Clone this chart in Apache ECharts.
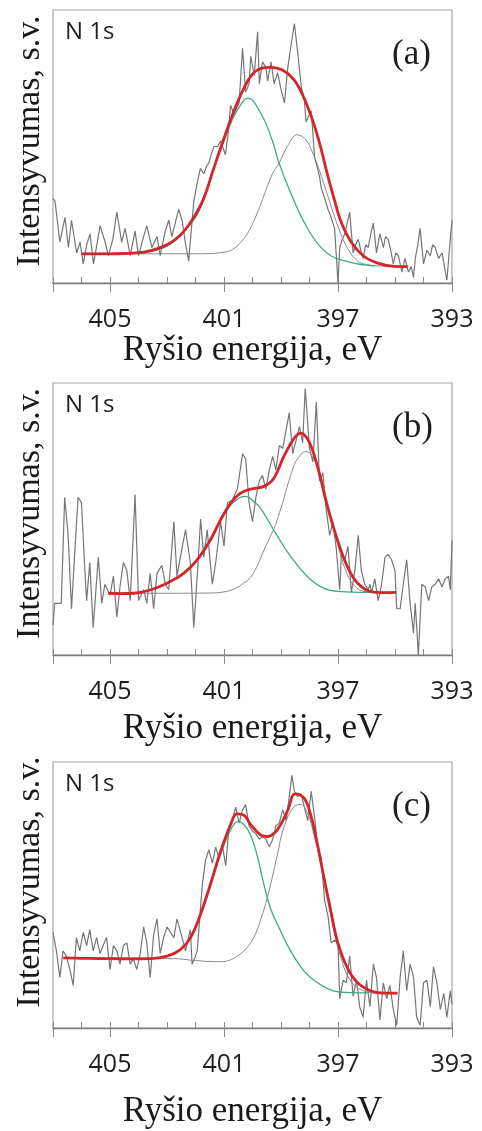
<!DOCTYPE html>
<html>
<head>
<meta charset="utf-8">
<script src="https://cdn.jsdelivr.net/npm/echarts@6/dist/echarts.min.js"></script>
<style>
  html, body { margin: 0; padding: 0; background: #fff; }
  #chart { width: 482px; height: 1131px; }
</style>
</head>
<body>
<div id="chart"></div>
<script>
// energies in eV, intensity in arbitrary units (0 = axis, 100 = top of frame)
const xTickLabels = [405, 401, 397, 393];
const panelTags = ['(a)', '(b)', '(c)'];

// (a) measured spectrum + fit
const rawA = [[407.0,31],[406.93,30],[406.76,15],[406.58,24],[406.46,13],[406.35,23],[406.17,11],[406.05,15],[405.94,7],[405.82,14],[405.70,18],[405.58,7],[405.46,14],[405.35,21],[405.17,15],[405.06,10],[404.9,16],[404.76,26],[404.59,15],[404.47,20],[404.29,10],[404.12,19],[404.0,10],[403.82,17],[403.71,21],[403.53,13],[403.35,17],[403.24,10],[403.06,19],[402.94,23],[402.83,17],[402.59,27],[402.47,23],[402.36,15],[402.24,8],[402.06,30],[401.95,36],[401.83,42],[401.71,40],[401.6,43],[401.53,44],[401.45,47],[401.35,50],[401.22,50],[401.12,52],[400.95,47],[400.85,55],[400.77,65],[400.65,62],[400.56,64],[400.47,66],[400.35,86],[400.24,70],[400.12,73],[400.06,83],[399.94,76],[399.82,92],[399.76,73],[399.65,81],[399.53,79],[399.47,74],[399.35,81],[399.24,73],[399.12,77],[399.0,71],[398.88,66],[398.76,79],[398.65,87],[398.53,95],[398.41,84],[398.29,72],[398.18,67],[398.12,59],[398.04,61],[397.94,63],[397.82,46],[397.72,42],[397.65,39],[397.59,35],[397.47,31],[397.35,27],[397.24,24],[397.12,20],[397.0,0],[396.94,13],[396.85,16],[396.76,18],[396.59,26],[396.47,11],[396.38,14],[396.29,16],[396.2,12],[396.12,9],[396.03,14],[395.94,13],[395.85,18],[395.76,22],[395.65,11],[395.53,18],[395.41,13],[395.33,17],[395.24,16],[395.15,12],[395.06,7],[394.97,11],[394.88,10],[394.76,4],[394.65,9],[394.53,4],[394.43,6],[394.35,2],[394.29,9],[394.2,14],[394.12,20],[394.0,7],[393.88,12],[393.76,10],[393.68,14],[393.59,13],[393.47,9],[393.35,11],[393.18,1],[393.06,16],[393.0,23]];
const compA1 = [[406,10.8],[405,10.8],[404,11],[403.5,11.8],[403,13.5],[402.5,18],[402,24],[401.7,31],[401.4,41],[401,52],[400.7,60],[400.4,65.5],[400.18,67.7],[400,67],[399.6,60],[399.3,52],[399.07,44],[398.66,33],[398.2,22.5],[397.72,14.5],[397.25,10],[396.67,7.8],[396.08,6.6],[395.7,6.2]];
const compA2 = [[406,10.7],[404,10.7],[402,10.7],[401.5,10.8],[401,11.3],[400.7,12.3],[400.4,15],[400.1,19.5],[399.8,26.5],[399.6,32],[399.3,40],[399.07,43.8],[398.78,50],[398.43,54.3],[398.13,52.5],[397.9,48],[397.72,43.3],[397.37,32.3],[397.02,21.3],[396.67,12.8],[396.31,8],[396,6.8],[395.5,6.2],[394.55,6]];
const fitA = [[406,10.7],[405.5,10.7],[405,10.7],[404.5,10.8],[404,11.1],[403.6,11.8],[403.3,12.7],[403,14],[402.7,16],[402.4,19],[402.06,24],[401.71,31],[401.36,42],[401,53],[400.65,63],[400.3,71.4],[400,76.5],[399.7,78.6],[399.37,79],[398.95,78],[398.54,74.4],[398.19,67.7],[397.84,58],[397.6,49.4],[397.37,39.7],[397.14,31],[396.9,22.6],[396.55,15.2],[396.08,9.7],[395.61,7.3],[395.02,6.1],[394.55,6]];

// (b)
const rawB = [[407.0,11],[406.94,19],[406.82,19],[406.71,19],[406.59,58],[406.47,44],[406.35,17],[406.24,37],[406.12,58],[406.0,56],[405.88,31],[405.82,20],[405.71,34],[405.59,10],[405.41,36],[405.29,19],[405.18,26],[405.0,22],[404.88,29],[404.76,14],[404.65,25],[404.53,34],[404.41,31],[404.29,20],[404.12,59],[404.0,20],[403.82,24],[403.71,19],[403.59,30],[403.47,17],[403.35,30],[403.18,33],[403.06,26],[402.94,24],[402.76,49],[402.65,29],[402.53,36],[402.35,46],[402.18,34],[402.06,10],[401.94,29],[401.82,50],[401.71,36],[401.59,46],[401.41,26],[401.29,34],[401.12,49],[401.0,40],[400.88,56],[400.71,57],[400.53,61],[400.35,74],[400.24,72],[400.12,56],[400.0,49],[399.88,58],[399.76,64],[399.65,66],[399.53,61],[399.41,68],[399.29,73],[399.18,68],[399.06,77],[398.94,76],[398.71,89],[398.59,74],[398.47,79],[398.35,84],[398.24,78],[398.15,98],[398.0,76],[397.88,71],[397.76,93],[397.65,64],[397.53,67],[397.41,53],[397.29,44],[397.18,49],[397.06,39],[396.94,24],[396.88,37],[396.76,35],[396.65,40],[396.53,23],[396.41,31],[396.29,44],[396.18,31],[396.06,26],[395.94,24],[395.88,26],[395.82,23],[395.71,28],[395.59,20],[395.47,26],[395.35,36],[395.24,37],[395.12,35],[395.0,31],[394.94,17],[394.82,17],[394.71,26],[394.59,35],[394.47,19],[394.35,8],[394.29,19],[394.18,0],[394.06,26],[393.94,25],[393.82,20],[393.71,25],[393.59,26],[393.47,28],[393.35,25],[393.24,28],[393.12,29],[393.06,24],[393.0,42]];
const compB1 = [[405,22.7],[404.2,22.7],[403.6,23.9],[403,26.3],[402.4,29.9],[401.95,34.7],[401.48,42],[401.12,49.2],[400.77,55],[400.45,57.8],[400.24,58.3],[400.07,57.5],[399.8,55],[399.6,52.1],[399.19,44.8],[398.66,36.2],[398.07,28.8],[397.49,24.5],[396.9,23.3],[395.96,23],[395,23]];
const compB2 = [[405,22.7],[403,22.7],[401.5,22.8],[401,23.2],[400.6,24.5],[400.3,26.5],[400.07,28.5],[399.8,33.5],[399.6,38.5],[399.4,43],[399.19,48],[399,54],[398.78,62],[398.6,68],[398.43,72],[398.13,74.8],[397.84,72],[397.6,65.5],[397.49,61],[397.14,46],[396.78,32.5],[396.43,25.5],[396,23.2],[395.4,23],[395,23]];
const fitB = [[405.06,22.7],[404.6,22.6],[404.18,22.7],[403.59,23.9],[403,26.4],[402.42,30],[401.95,34.9],[401.48,42.3],[401.12,49.7],[400.77,55.8],[400.42,59.5],[400.07,61],[399.6,62],[399.25,65],[398.9,73],[398.54,79.7],[398.31,81.6],[398.02,78.5],[397.72,69.3],[397.37,54.6],[397.02,42.3],[396.67,32.5],[396.31,26.4],[395.84,23.3],[395.38,22.9],[394.96,23]];

// (c)
const rawC = [[407.0,36],[406.88,29],[406.76,19],[406.65,29],[406.53,27],[406.41,22],[406.29,16],[406.18,34],[406.06,29],[405.94,36],[405.82,31],[405.71,37],[405.59,29],[405.47,34],[405.35,28],[405.24,31],[405.12,34],[405.0,22],[404.88,31],[404.76,29],[404.65,24],[404.53,31],[404.41,32],[404.29,24],[404.18,26],[404.06,22],[403.94,28],[403.82,38],[403.71,32],[403.59,19],[403.47,35],[403.35,41],[403.24,28],[403.12,34],[403.0,38],[402.88,36],[402.76,34],[402.65,41],[402.47,34],[402.35,29],[402.18,37],[402.12,24],[402.0,27],[401.94,29],[401.76,54],[401.65,63],[401.53,67],[401.41,62],[401.29,68],[401.18,64],[401.06,69],[400.94,61],[400.82,76],[400.71,78],[400.59,83],[400.47,77],[400.35,82],[400.24,84],[400.12,76],[400.0,74],[399.88,73],[399.76,71],[399.65,72],[399.53,71],[399.41,68],[399.29,71],[399.18,76],[399.06,77],[398.94,82],[398.82,78],[398.71,87],[398.62,95],[398.53,89],[398.41,87],[398.29,88],[398.18,83],[398.06,78],[397.94,89],[397.82,79],[397.71,68],[397.59,64],[397.47,48],[397.35,42],[397.24,32],[397.12,33],[397.0,32],[396.94,11],[396.82,18],[396.71,17],[396.59,27],[396.47,12],[396.35,18],[396.24,8],[396.12,4],[396.0,18],[395.88,8],[395.76,24],[395.65,19],[395.53,3],[395.41,17],[395.29,11],[395.18,16],[395.06,7],[394.94,1],[394.82,19],[394.71,29],[394.59,14],[394.47,24],[394.35,19],[394.24,4],[394.12,1],[394.0,17],[393.88,18],[393.76,8],[393.65,23],[393.53,17],[393.41,7],[393.29,13],[393.18,4],[393.06,14],[393.0,9]];
const compC1 = [[406.64,26.4],[405,26.1],[403.59,26.1],[403,27],[402.53,29.4],[402.18,33.7],[401.83,42.2],[401.48,53.2],[401.12,65.3],[400.77,74.5],[400.5,77.7],[400.3,76.5],[400.07,72.6],[399.84,65],[399.6,54],[399.37,45],[399.01,36.4],[398.66,28.9],[398.19,21.4],[397.72,17],[397.14,13.9],[396.55,13.3],[395.96,13.2]];
const compC2 = [[406.64,26.4],[404,26.3],[402.6,26],[402.06,25.4],[401.12,24.9],[400.8,25.5],[400.54,27],[400.3,29],[400.07,32],[399.89,35.5],[399.72,40.5],[399.48,49],[399.13,65],[398.9,75.5],[398.54,83.3],[398.31,84],[398.07,80.8],[397.84,72.6],[397.6,61.4],[397.37,48.9],[397.14,36.4],[396.9,26.4],[396.55,17.6],[396.08,13.9],[395.61,13.1],[394.91,13.1]];
const fitC = [[406.64,26.4],[406,26.2],[405.35,26.1],[404.5,26],[403.59,26.1],[403,27],[402.53,29.5],[402.18,33.9],[401.83,42.6],[401.48,53.9],[401.12,66.4],[400.77,76.4],[400.55,80.5],[400.3,80],[400.07,76.5],[399.72,72.6],[399.48,72],[399.13,74.5],[398.78,81.4],[398.5,88],[398.19,86.4],[397.96,80.2],[397.72,68.9],[397.49,56.4],[397.25,43.9],[397.02,32.6],[396.67,22.6],[396.31,17],[395.84,13.9],[395.38,13.1],[394.91,13.1]];

const panels = [
  { raw: rawA, c1: compA1, c2: compA2, fit: fitA, top: 10, height: 273, nameGap: 50, yShift: 11 },
  { raw: rawB, c1: compB1, c2: compB2, fit: fitB, top: 383, height: 272, nameGap: 56, yShift: 11 },
  { raw: rawC, c1: compC1, c2: compC2, fit: fitC, top: 762, height: 266, nameGap: 66, yShift: 26 },
];

const chart = echarts.init(document.getElementById('chart'));

const grid = [];
const xAxis = [];
const yAxis = [];
const series = [];
const title = [];

panels.forEach((p, i) => {
  grid.push({ left: 53, top: p.top, width: 399, height: p.height, show: true, borderColor: '#a6a6a6', borderWidth: 1.2 });
  xAxis.push({
    type: 'value', gridIndex: i, min: 393, max: 407, interval: 1, inverse: true,
    axisLine: { lineStyle: { color: '#7a7a7a', width: 1.4 } },
    axisTick: { inside: true, length: 6, lineStyle: { color: '#8a8a8a' } },
    axisLabel: {
      margin: 24, color: '#1e1e1e', fontFamily: 'Open Sans', fontSize: 25,
      formatter: (v) => (xTickLabels.includes(v) ? String(v) : ''),
    },
    splitLine: { show: false },
    name: 'Ryšio energija, eV', nameLocation: 'middle', nameGap: p.nameGap,
    nameTextStyle: { fontFamily: 'Liberation Serif', fontSize: 35, color: '#1a1a1a' },
  });
  yAxis.push({
    type: 'value', gridIndex: i, min: 0, max: 100,
    axisLine: { show: false }, axisTick: { show: false }, axisLabel: { show: false }, splitLine: { show: false },
    name: 'Intensyvumas, s.v.', nameLocation: 'middle', nameRotate: 90, nameGap: 6,
    nameTextStyle: { fontFamily: 'Liberation Serif', fontSize: 34, color: '#1a1a1a', padding: [0, 0, 0, p.yShift] },
  });
  const base = { type: 'line', xAxisIndex: i, yAxisIndex: i, symbol: 'none', silent: true };
  series.push({ ...base, data: p.raw, lineStyle: { color: '#767676', width: 1.2 } });
  series.push({ ...base, data: p.c2, smooth: 0.4, lineStyle: { color: '#8a8a8a', width: 1 } });
  series.push({ ...base, data: p.c1, smooth: 0.4, lineStyle: { color: '#3ea98a', width: 1.3 } });
  series.push({ ...base, data: p.fit, smooth: 0.4, lineStyle: { color: '#d3262b', width: 2.8 } });

  title.push({ text: 'N 1s', left: 60, top: p.top + 5, textStyle: { fontFamily: 'Open Sans', fontSize: 24, fontWeight: 'normal', color: '#1e1e1e' } });
  title.push({ text: panelTags[i], left: 387, top: p.top + 22, textStyle: { fontFamily: 'Liberation Serif', fontSize: 35, fontWeight: 'normal', color: '#1e1e1e' } });
});

// outward major ticks every 4 eV
panels.forEach((p, i) => {
  xAxis.push({
    type: 'value', gridIndex: i, min: 393, max: 407, interval: 4, inverse: true, position: 'bottom',
    axisLine: { show: false },
    axisTick: { inside: false, length: 9, lineStyle: { color: '#8a8a8a' } },
    axisLabel: { show: false }, splitLine: { show: false },
  });
});

chart.setOption({ animation: false, title, grid, xAxis, yAxis, series });
window.addEventListener('resize', () => {
  chart.resize();
});
</script>
</body>
</html>
